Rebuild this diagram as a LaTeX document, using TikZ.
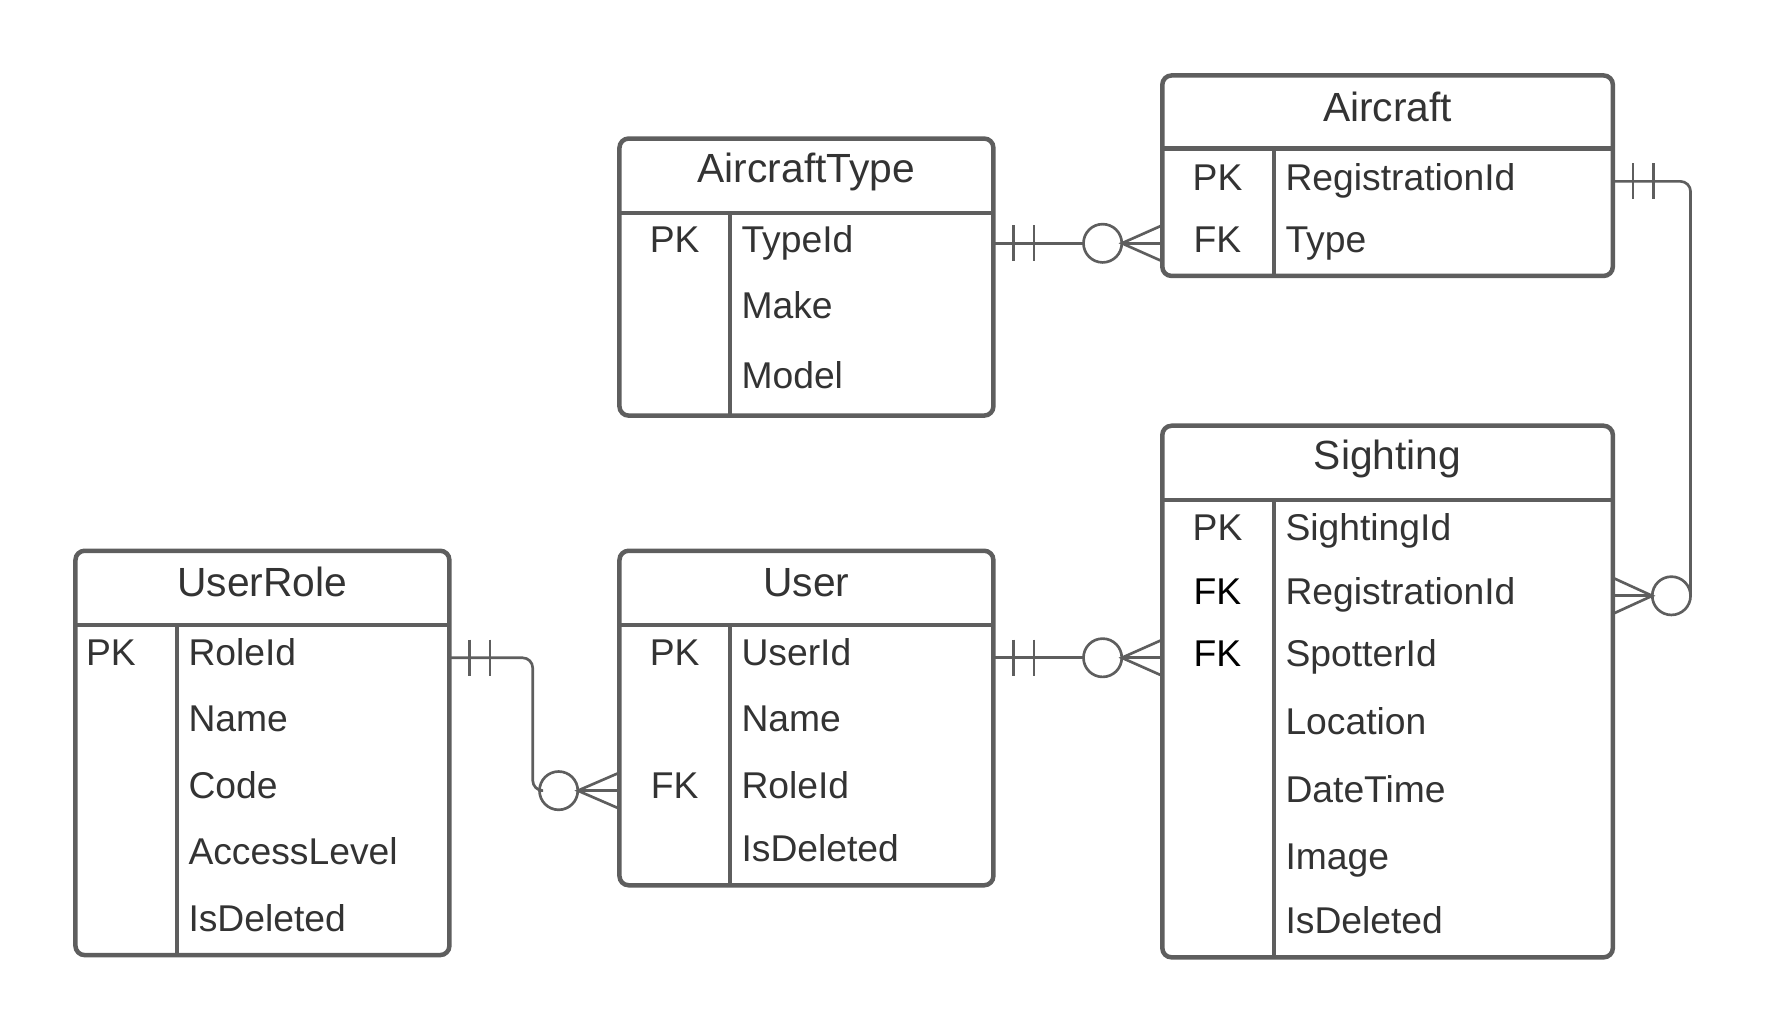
\documentclass[tikz,border=0pt]{standalone}
\usepackage{fontspec}
\setmainfont{Liberation Sans}
\usetikzlibrary{fit,calc}
\definecolor{edge}{HTML}{5E5E5E}
\definecolor{txt}{HTML}{333333}
\begin{document}
\begin{tikzpicture}[x=0.55pt,y=-0.55pt,
 entbox/.style={draw=edge, line width=2.2pt, rounded corners=4.5pt, inner sep=0pt, outer sep=0pt},
 divider/.style={draw=edge, line width=2.2pt},
 conn/.style={draw=edge, line width=1.3pt},
 ttl/.style={font=\fontsize{19.9}{24}\selectfont, text=txt, inner sep=0pt, text height=14.3pt, text depth=0pt},
 fld/.style={font=\fontsize{18.2}{22}\selectfont, text=txt, inner sep=0pt, text height=13pt, text depth=0pt, anchor=west},
 keyc/.style={font=\fontsize{18.2}{22}\selectfont, text=txt, inner sep=0pt, text height=13pt, text depth=0pt},
]
\useasboundingbox (0,0) rectangle (1568,917);

% ---------- AircraftType ----------
\node[entbox, fit={(550,123) (882,369)}] (atype) {};
\draw[divider] (550,189) -- (882,189);
\draw[divider] (648,189) -- (648,369);
\node[ttl] (atypeT) at (716,149) {AircraftType};
\node[keyc] (atypeK1) at (599,212) {PK};
\node[fld] (atypeF1) at (658,212) {TypeId};
\node[fld] (atypeF2) at (658,271) {Make};
\node[fld] (atypeF3) at (658,333) {Model};

% ---------- Aircraft ----------
\node[entbox, fit={(1032,67) (1432,245)}] (aircraft) {};
\draw[divider] (1032,132) -- (1432,132);
\draw[divider] (1131,132) -- (1131,245);
\node[ttl] (aircraftT) at (1232,95) {Aircraft};
\node[keyc] (aircraftK1) at (1081,157) {PK};
\node[keyc] (aircraftK2) at (1081,212) {FK};
\node[fld] (aircraftF1) at (1141,157) {RegistrationId};
\node[fld] (aircraftF2) at (1141,212) {Type};

% ---------- Sighting ----------
\node[entbox, fit={(1032,378) (1432,850)}] (sighting) {};
\draw[divider] (1032,444) -- (1432,444);
\draw[divider] (1131,444) -- (1131,850);
\node[ttl] (sightingT) at (1232,404) {Sighting};
\node[keyc] (sightingK1) at (1081,468) {PK};
\node[keyc, text=black] (sightingK2) at (1081,525) {FK};
\node[keyc, text=black] (sightingK3) at (1081,580) {FK};
\node[fld] (sightingF1) at (1141,468) {SightingId};
\node[fld] (sightingF2) at (1141,525) {RegistrationId};
\node[fld] (sightingF3) at (1141,580) {SpotterId};
\node[fld] (sightingF4) at (1141,640) {Location};
\node[fld] (sightingF5) at (1141,701) {DateTime};
\node[fld] (sightingF6) at (1141,760) {Image};
\node[fld] (sightingF7) at (1141,817) {IsDeleted};

% ---------- UserRole ----------
\node[entbox, fit={(67,489) (399,848)}] (urole) {};
\draw[divider] (67,555) -- (399,555);
\draw[divider] (157,555) -- (157,848);
\node[ttl] (uroleT) at (233,517) {UserRole};
\node[fld] (uroleK1) at (76,579) {PK};
\node[fld] (uroleF1) at (167,579) {RoleId};
\node[fld] (uroleF2) at (167,638) {Name};
\node[fld] (uroleF3) at (167,697) {Code};
\node[fld] (uroleF4) at (167,756) {AccessLevel};
\node[fld] (uroleF5) at (167,815) {IsDeleted};

% ---------- User ----------
\node[entbox, fit={(550,489) (882,786)}] (user) {};
\draw[divider] (550,555) -- (882,555);
\draw[divider] (648,555) -- (648,786);
\node[ttl] (userT) at (716,517) {User};
\node[keyc] (userK1) at (599,579) {PK};
\node[keyc] (userK3) at (599,697) {FK};
\node[fld] (userF1) at (658,579) {UserId};
\node[fld] (userF2) at (658,638) {Name};
\node[fld] (userF3) at (658,697) {RoleId};
\node[fld] (userF4) at (658,753) {IsDeleted};

% ---------- Connector: AircraftType -> Aircraft ----------
\coordinate (y1) at (0,216);
\draw[conn] (atype.east |- y1) -- ($(aircraft.west |- y1)+(-70,0)$);
\draw[conn] ($(atype.east |- y1)+(18,-16)$) -- ++(0,32);
\draw[conn] ($(atype.east |- y1)+(36,-16)$) -- ++(0,32);
\draw[conn] ($(aircraft.west |- y1)+(-53,0)$) circle[radius=9.35pt];
\draw[conn] (aircraft.west |- y1) ++(0,-16) -- ++(-36,16) -- ++(36,16);
\draw[conn] (aircraft.west |- y1) -- ++(-36,0);

% ---------- Connector: Aircraft -> Sighting ----------
\coordinate (y2a) at (0,161);
\coordinate (y2b) at (0,529);
\coordinate (x2) at (1501,0);
\draw[conn, rounded corners=5pt] (aircraft.east |- y2a) -- (x2 |- y2a) -- (x2 |- y2b);
\draw[conn] ($(aircraft.east |- y2a)+(18,-16)$) -- ++(0,32);
\draw[conn] ($(aircraft.east |- y2a)+(36,-16)$) -- ++(0,32);
\draw[conn] ($(sighting.east |- y2b)+(52,0)$) circle[radius=9.35pt];
\draw[conn] (sighting.east |- y2b) ++(0,-16) -- ++(35,16) -- ++(-35,16);
\draw[conn] (sighting.east |- y2b) -- ++(35,0);

% ---------- Connector: User -> Sighting ----------
\coordinate (y3) at (0,584);
\draw[conn] (user.east |- y3) -- ($(sighting.west |- y3)+(-70,0)$);
\draw[conn] ($(user.east |- y3)+(18,-16)$) -- ++(0,32);
\draw[conn] ($(user.east |- y3)+(36,-16)$) -- ++(0,32);
\draw[conn] ($(sighting.west |- y3)+(-53,0)$) circle[radius=9.35pt];
\draw[conn] (sighting.west |- y3) ++(0,-16) -- ++(-36,16) -- ++(36,16);
\draw[conn] (sighting.west |- y3) -- ++(-36,0);

% ---------- Connector: UserRole -> User ----------
\coordinate (y4a) at (0,584);
\coordinate (y4b) at (0,702);
\coordinate (x4) at (473,0);
\draw[conn, rounded corners=5pt] (urole.east |- y4a) -- (x4 |- y4a) -- (x4 |- y4b) -- ($(user.west |- y4b)+(-71,0)$);
\draw[conn] ($(urole.east |- y4a)+(18,-16)$) -- ++(0,32);
\draw[conn] ($(urole.east |- y4a)+(36,-16)$) -- ++(0,32);
\draw[conn] ($(user.west |- y4b)+(-54,0)$) circle[radius=9.35pt];
\draw[conn] (user.west |- y4b) ++(0,-16) -- ++(-37,16) -- ++(37,16);
\draw[conn] (user.west |- y4b) -- ++(-37,0);
\end{tikzpicture}
\end{document}
